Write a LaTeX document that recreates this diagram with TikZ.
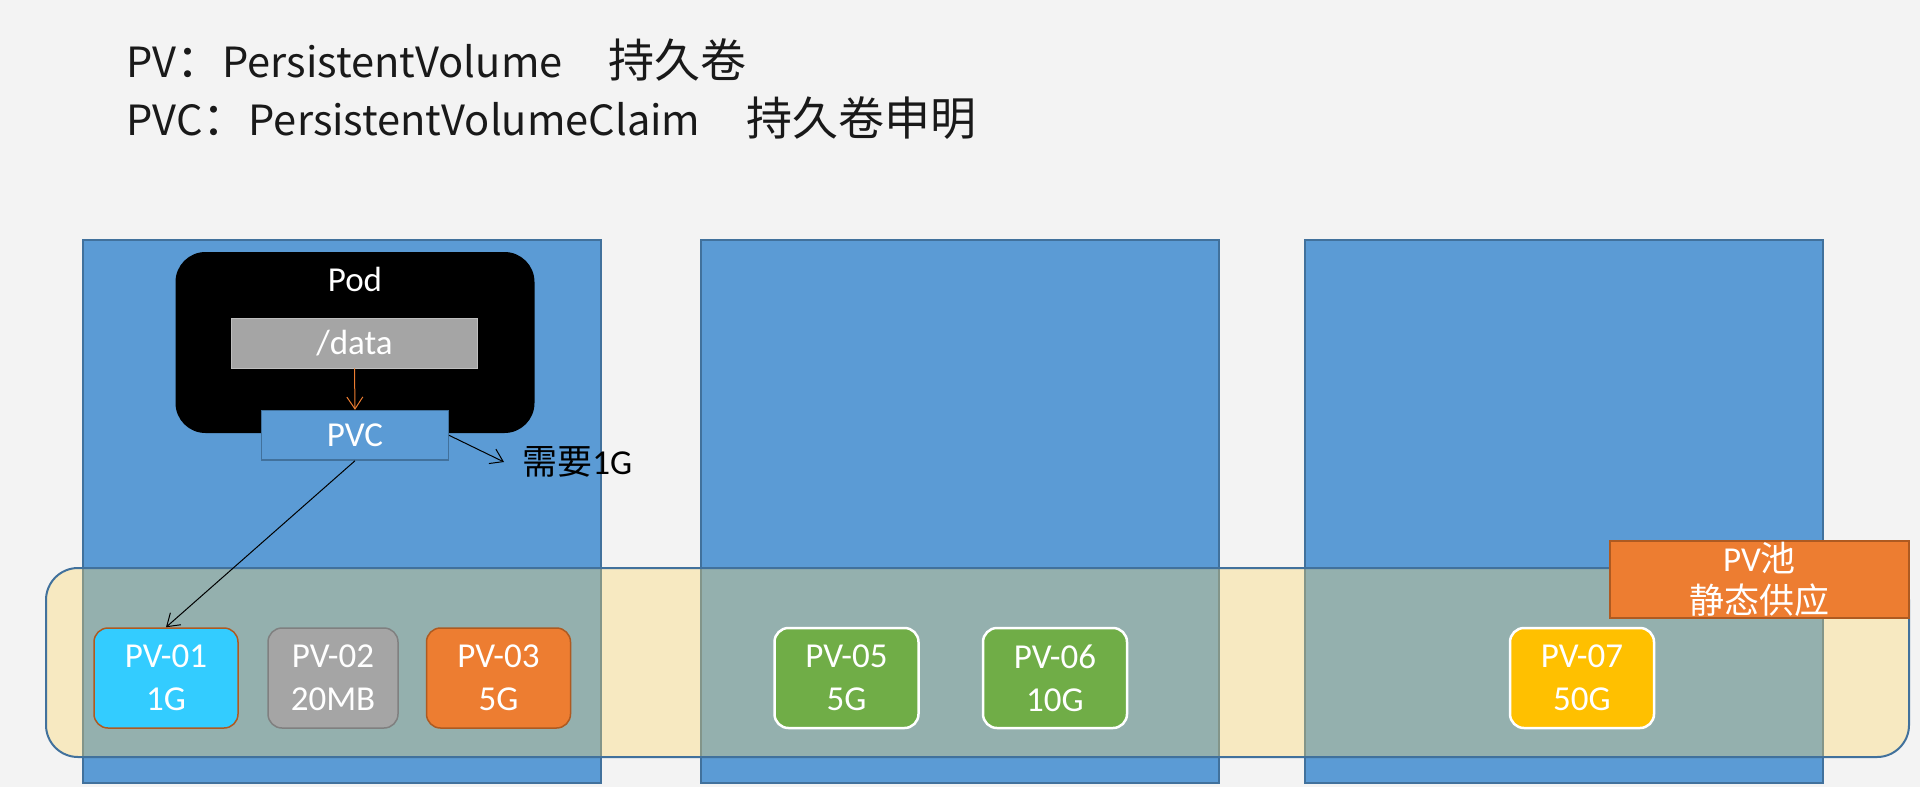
\documentclass[tikz,border=0pt]{standalone}
\usepackage{fontspec}
\setmainfont{Carlito}
\newfontfamily\cjk{Noto Sans CJK SC}
\usepackage{tikz}
\usetikzlibrary{positioning,arrows.meta,calc,fit}
\definecolor{pagebg}{HTML}{F3F3F3}
\definecolor{hostblue}{HTML}{5B9BD5}
\definecolor{hostline}{HTML}{41719C}
\definecolor{poolgold}{HTML}{FFD966}
\definecolor{pvcyan}{HTML}{33CCFF}
\definecolor{pvgrey}{HTML}{A5A5A5}
\definecolor{pvorange}{HTML}{ED7D31}
\definecolor{pvgreen}{HTML}{70AD47}
\definecolor{pvgold}{HTML}{FFC000}
\definecolor{edgeorange}{HTML}{AE5A21}
\newcommand\zh[1]{{\fontsize{23}{28}\selectfont\cjk #1}}
\tikzset{
  host/.style={draw=hostline,line width=1pt,fill=hostblue,minimum width=259pt,minimum height=271.5pt,inner sep=0pt},
  pool/.style={draw=hostline,line width=1pt,fill=poolgold,fill opacity=0.35,rounded corners=16pt,minimum width=931.5pt,minimum height=94.5pt,inner sep=0pt},
  txt/.style={font=\fontsize{17.5}{21.5}\selectfont},
  title/.style={anchor=base west,inner sep=0pt,text=black!90,font=\fontsize{20.8}{28}\selectfont\cjk},
  pv/.style={txt,rounded corners=7pt,minimum width=72pt,minimum height=50pt,align=center,text=white,inner sep=0pt},
  greenpv/.style={pv,fill=pvgreen,draw=white,line width=1.25pt},
  arr/.style={-{Straight Barb[length=6pt,width=8pt]},line width=0.5pt},
}
\begin{document}
\begin{tikzpicture}[x=0.5pt,y=-0.5pt]
\useasboundingbox (0,0) rectangle (1920,787);
\fill[pagebg] (0,0) rectangle (1920,787);
% title lines
\node[title] (pvline) at (126,77) {PV\zh{：}PersistentVolume\hspace{23pt}\zh{持久卷}};
\node[title] (pvcline) at (126,135) {PVC\zh{：}PersistentVolumeClaim\hspace{23pt}\zh{持久卷申明}};
% hosts
\node[host] (host1) at (341.5,511.5) {};
\node[host] (host2) at (960,511.5) {};
\node[host] (host3) at (1563.5,511.5) {};
% pod with its volume and claim
\node[fill=black,rounded corners=15pt,minimum width=179.5pt,minimum height=90.5pt,inner sep=0pt] (pod) at (355,342.5) {};
\node[txt,text=white,inner sep=0pt] (podlabel) at (355,279) {Pod};
\node[txt,draw=black!25,fill=pvgrey,text=white,minimum width=122.75pt,minimum height=25pt,inner sep=0pt] (data) at (354.5,343) {/data};
\node[txt,draw=hostline,line width=0.75pt,fill=hostblue,text=white,minimum width=93.3pt,minimum height=24.7pt,inner sep=0pt] (pvc) at (355,435.3) {PVC};
\node[txt,anchor=west,inner xsep=9pt,inner ysep=0pt] (need) at (504,462) {{\cjk 需要}1G};
% pv pool
\node[pool] (pool) at (977.5,662.5) {};
\node[pv,fill=pvcyan,draw=edgeorange,line width=0.75pt] (pv01) at (166,678) {PV-01\\1G};
\node[pv,fill=pvgrey,draw=black!50,line width=0.75pt,minimum width=65pt] (pv02) at (333,678) {PV-02\\20MB};
\node[pv,fill=pvorange,draw=edgeorange,line width=0.75pt] (pv03) at (498.5,678) {PV-03\\5G};
\node[greenpv] (pv05) at (846.5,678) {PV-05\\5G};
\node[greenpv] (pv06) at (1055,678) {PV-06\\10G};
\node[pv,fill=pvgold,draw=white,line width=1.25pt] (pv07) at (1582,678) {PV-07\\50G};
\node[pv,fill=pvorange,draw=edgeorange,line width=1pt,rounded corners=0pt,minimum width=149.5pt,minimum height=38.5pt,font=\fontsize{17.5}{21}\selectfont] (poolhead) at (1759.5,579.5) {PV{\cjk 池}\\{\cjk 静态供应}};
% arrows
\draw[arr,pvorange] (data.south) -- (pvc.north);
\draw[arr] (pvc.east) -- (need.west);
\draw[arr] (pvc.south) -- (pv01.north);
\end{tikzpicture}
\end{document}
